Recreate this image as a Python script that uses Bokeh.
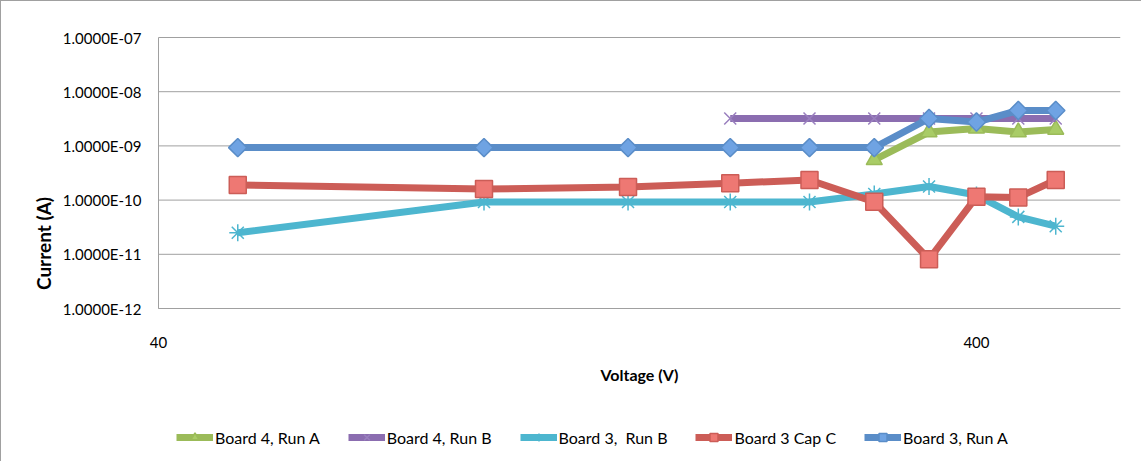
import math
from bokeh.plotting import figure
from bokeh.models import Range1d, FixedTicker, CustomJSTickFormatter, Legend, LegendItem, Title
from bokeh.embed import file_html
from bokeh.resources import INLINE

# ---- data ----
voltage = [50, 100, 150, 200, 250, 300, 350, 400, 450, 500]

b4_runA_v = [300, 350, 400, 450, 500]
b4_runA_i = [5.5e-10, 1.8e-9, 2.1e-9, 1.8e-9, 2.0e-9]

b4_runB_v = [200, 250, 300, 350, 400, 450, 500]
b4_runB_i = [3.2e-9, 3.2e-9, 3.2e-9, 3.2e-9, 3.2e-9, 3.2e-9, 3.2e-9]

b3_runB_i = [2.5e-11, 9.2e-11, 9.2e-11, 9.2e-11, 9.2e-11, 1.3e-10, 1.78e-10, 1.24e-10, 4.9e-11, 3.3e-11]
b3_capC_i = [1.9e-10, 1.6e-10, 1.75e-10, 2.05e-10, 2.35e-10, 9.3e-11, 8.1e-12, 1.15e-10, 1.12e-10, 2.35e-10]
b3_runA_i = [9.3e-10, 9.3e-10, 9.3e-10, 9.3e-10, 9.3e-10, 9.3e-10, 3.2e-9, 2.75e-9, 4.5e-9, 4.5e-9]

y_ticks = [1e-12, 1e-11, 1e-10, 1e-9, 1e-8, 1e-7]
x_ticks = [40, 400]
x_min, x_max = 40, 600
y_min, y_max = 1e-12, 1e-7

labels = ["Board 4, Run A", "Board 4, Run B", "Board 3,  Run B", "Board 3 Cap C", "Board 3, Run A"]

FONT = "Lato"

# The frame is larger than the axes region (so tick labels & legend are not clipped)
PLOT_W, PLOT_H = 962, 271      # pixel size of the 40..600 x 1e-12..1e-7 region
TOP_PAD = 12
FRAME_W, FRAME_H = 1062, 436
x_start = x_max / (x_max / x_min) ** (FRAME_W / PLOT_W)
y_end = y_max * (y_max / y_min) ** (TOP_PAD / PLOT_H)
y_start = y_min / (y_max / y_min) ** ((FRAME_H - PLOT_H - TOP_PAD) / PLOT_H)

p = figure(frame_width=FRAME_W, frame_height=FRAME_H, x_axis_type="log", y_axis_type="log",
           x_range=Range1d(x_start, x_max), y_range=Range1d(y_start, y_end),
           output_backend="svg", toolbar_location=None,
           min_border_left=57, min_border_right=21, min_border_top=36 - TOP_PAD, min_border_bottom=0)
p.outline_line_color = None
p.styles = {"border-left": "1px solid #a0a0a0", "border-top": "1px solid #a0a0a0"}

p.xgrid.visible = False
p.ygrid.visible = False

# horizontal gridlines, limited to the axes region
p.segment(x0=[x_min] * len(y_ticks), x1=[x_max] * len(y_ticks), y0=y_ticks, y1=y_ticks,
          line_color="#a0a0a0", line_width=1)

p.yaxis.ticker = FixedTicker(ticks=y_ticks)
p.xaxis.ticker = FixedTicker(ticks=x_ticks)
p.yaxis.formatter = CustomJSTickFormatter(code="""
const s = tick.toExponential(4).toUpperCase();
const parts = s.split("E");
const e = parts[1];
const sign = e[0] === "-" ? "-" : "+";
const d = e.replace("-", "").replace("+", "").padStart(2, "0");
return parts[0] + "E" + sign + d;
""")
p.xaxis.formatter = CustomJSTickFormatter(code="return tick.toFixed(0);")

for ax in (p.xaxis, p.yaxis):
    ax.major_tick_line_color = None
    ax.minor_tick_line_color = None
    ax.major_label_text_font = FONT
    ax.major_label_text_font_size = "15px"
    ax.major_label_text_color = "#000000"
    ax.axis_label_text_font = FONT
    ax.axis_label_text_font_style = "bold"
    ax.axis_label_text_color = "#000000"

p.yaxis.axis_line_color = "#a0a0a0"
p.yaxis.fixed_location = x_min
p.yaxis.bounds = (y_min, y_max)
p.yaxis.major_label_standoff = 11

p.xaxis.axis_line_color = "#a0a0a0"
p.xaxis.fixed_location = y_min
p.xaxis.bounds = (x_min, x_max)
p.xaxis.axis_label = "Voltage (V)"
p.xaxis.axis_label_text_font_size = "16px"
p.xaxis.major_label_standoff = 22
p.xaxis.axis_label_standoff = 14

ytitle = Title(text="Current (A)", align="center",
               offset=FRAME_H / 2 - (TOP_PAD + PLOT_H / 2),
               standoff=8, text_font=FONT, text_font_style="bold",
               text_font_size="19px", text_color="#000000")
p.add_layout(ytitle, "left")

LW = 7
series = [
    (b4_runA_v, b4_runA_i, "#9BBB59", "#a9cc66", "#9BBB59", "triangle", 16, 0),
    (b4_runB_v, b4_runB_i, "#8B6DB0", "#8B6DB0", "#9a80bf", "x", 17, 0),
    (voltage, b3_runB_i, "#4DB6CF", "#4DB6CF", "#4DB6CF", "asterisk", 17, 0),
    (voltage, b3_capC_i, "#CC5D57", "#ee7873", "#CC5D57", "square", 17, 0),
    (voltage, b3_runA_i, "#5A8DC8", "#6fa3e3", "#5A8DC8", "square", 13, math.pi / 4),
]

items = []
for (xs, ys, lc, fc, mc, marker, size, ang), lab in zip(series, labels):
    ln = p.line(xs, ys, line_color=lc, line_width=LW)
    sc = p.scatter(xs, ys, marker=marker, size=size, angle=ang,
                   fill_color=fc, line_color=mc, line_width=1.5)
    items.append(LegendItem(label=lab, renderers=[ln, sc]))

legend = Legend(items=items, orientation="horizontal", location=(118, 14),
                glyph_width=37, glyph_height=20, label_standoff=2, spacing=28,
                padding=0, margin=0, border_line_color=None, background_fill_alpha=0,
                label_text_font=FONT, label_text_font_size="16px", label_text_color="#000000")
p.add_layout(legend, "center")

open("out.html", "w").write(file_html(p, INLINE))
